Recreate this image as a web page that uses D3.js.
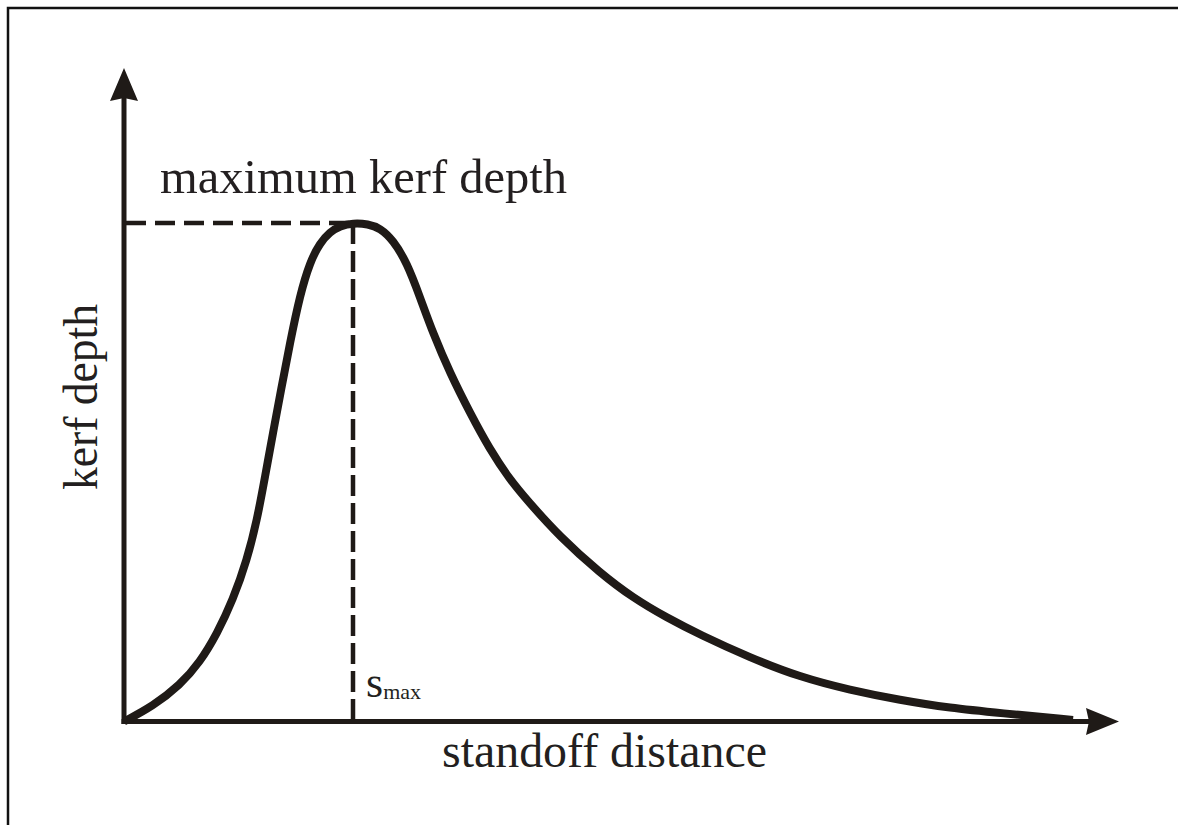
<!DOCTYPE html>
<html>
<head>
<meta charset="utf-8">
<script src="https://cdn.jsdelivr.net/npm/d3@7"></script>
<style>
  html, body { margin: 0; padding: 0; background: #fff; }
  svg { display: block; }
</style>
</head>
<body>
<div id="chart"></div>
<script>
// standoff distance (arbitrary units) and relative kerf depth
const standoff = [0, 0.305, 0.589, 0.799, 0.978, 1.146, 1.293, 1.399, 1.483, 1.567, 1.651, 1.746, 1.851,
  1.956, 2.061, 2.166, 2.271, 2.408, 2.566, 2.692, 2.829, 2.976, 3.113, 3.249, 3.428, 3.638, 3.849,
  4.059, 4.238, 4.585, 5.005, 5.352, 5.710, 6.057, 6.583, 7.108, 7.634, 8.160, 8.686, 9.211, 9.979];
const kerfDepth = [0, 0.031, 0.073, 0.119, 0.176, 0.244, 0.324, 0.404, 0.491, 0.579, 0.665, 0.760, 0.856,
  0.922, 0.960, 0.982, 0.994, 1.0, 0.998, 0.990, 0.966, 0.920, 0.851, 0.779, 0.699, 0.619, 0.545,
  0.485, 0.444, 0.370, 0.298, 0.248, 0.208, 0.174, 0.128, 0.089, 0.063, 0.043, 0.027, 0.017, 0.003];

const xLabel = "standoff distance";
const yLabel = "kerf depth";
const peakLabel = "maximum kerf depth";

const width = 1178, height = 825;
const ink = "#1f1a17";
const serif = "'Liberation Serif', 'Times New Roman', 'DejaVu Serif', 'Noto Serif', serif";

const svg = d3.select("#chart").append("svg")
  .attr("width", width)
  .attr("height", height);

// frame (only top and left edges are visible in the crop)
svg.append("path")
  .attr("d", "M8,830 L8,8 L1190,8")
  .attr("fill", "none")
  .attr("stroke", "#111")
  .attr("stroke-width", 2.5);

const x = d3.scaleLinear().domain([0, 10]).range([124, 1075]);
const y = d3.scaleLinear().domain([0, 1]).range([721.5, 223]);

const data = standoff.map((s, i) => ({ s, d: kerfDepth[i] }));
const peak = data[d3.maxIndex(data, d => d.d)];

const x0 = x(0), y0 = y(0);

// axes
svg.append("line")
  .attr("x1", x0).attr("x2", x0)
  .attr("y1", y0 + 2.5).attr("y2", 98)
  .attr("stroke", ink).attr("stroke-width", 5);
svg.append("path")
  .attr("d", `M${x0},68 L${x0 + 14},101 L${x0},98 L${x0 - 14},101 Z`)
  .attr("fill", ink);

svg.append("line")
  .attr("x1", x0 - 2.5).attr("x2", 1089)
  .attr("y1", y0).attr("y2", y0)
  .attr("stroke", ink).attr("stroke-width", 5);
svg.append("path")
  .attr("d", `M1119,${y0} L1086,${y0 - 13.5} L1089,${y0} L1086,${y0 + 13.5} Z`)
  .attr("fill", ink);

// dashed guides to the peak
svg.append("line")
  .attr("x1", x0 + 2).attr("x2", x(peak.s))
  .attr("y1", y(peak.d)).attr("y2", y(peak.d))
  .attr("stroke", ink).attr("stroke-width", 4.5)
  .attr("stroke-dasharray", "20,9");

svg.append("line")
  .attr("x1", x(peak.s)).attr("x2", x(peak.s))
  .attr("y1", y(peak.d)).attr("y2", y0)
  .attr("stroke", ink).attr("stroke-width", 4.5)
  .attr("stroke-dasharray", "21,7");

// curve (basis spline smooths the hand-read points)
const line = d3.line()
  .x(d => x(d.s))
  .y(d => y(d.d))
  .curve(d3.curveBasis);

svg.append("path")
  .datum(data)
  .attr("d", line)
  .attr("fill", "none")
  .attr("stroke", ink)
  .attr("stroke-width", 8)
  .attr("stroke-linejoin", "round");

// labels
const label = (txt, size) => svg.append("text")
  .attr("font-family", serif)
  .attr("font-size", size)
  .attr("fill", "#231f20")
  .text(txt);

label(peakLabel, 48)
  .attr("x", 160).attr("y", 193)
  .attr("textLength", 407).attr("lengthAdjust", "spacingAndGlyphs");

label(xLabel, 48)
  .attr("x", 442).attr("y", 767)
  .attr("textLength", 325).attr("lengthAdjust", "spacingAndGlyphs");

label(yLabel, 48)
  .attr("transform", "translate(97,490) rotate(-90)")
  .attr("textLength", 186).attr("lengthAdjust", "spacingAndGlyphs");

const sLab = label("s", 44)
  .attr("x", x(peak.s) + 13).attr("y", 697);
sLab.append("tspan")
  .attr("font-size", 22)
  .attr("dy", 2)
  .text("max");
</script>
</body>
</html>
